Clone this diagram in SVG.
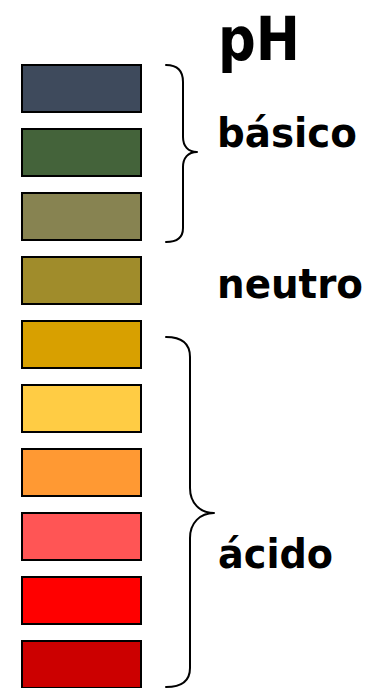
<svg xmlns="http://www.w3.org/2000/svg" width="374" height="688" viewBox="0 0 374 688">
  <style>
    .sw { stroke: #000; stroke-width: 2; }
    .br { fill: none; stroke: #000; stroke-width: 2; stroke-linecap: round; stroke-linejoin: round; }
    .lbl { font-family: "DejaVu Sans", "Liberation Sans", sans-serif; font-weight: bold; fill: #000; }
  </style>
  <rect width="374" height="688" fill="#fff"/>

  <!-- pH colour scale, from basic (top) to acidic (bottom) -->
  <g id="swatch-1"><rect class="sw" x="22" y="65" width="119" height="47" fill="#3E4A5C"/></g>
  <g id="swatch-2"><rect class="sw" x="22" y="129" width="119" height="47" fill="#44633A"/></g>
  <g id="swatch-3"><rect class="sw" x="22" y="193" width="119" height="47" fill="#878351"/></g>
  <g id="swatch-4"><rect class="sw" x="22" y="257" width="119" height="47" fill="#A08C2B"/></g>
  <g id="swatch-5"><rect class="sw" x="22" y="321" width="119" height="47" fill="#D8A000"/></g>
  <g id="swatch-6"><rect class="sw" x="22" y="385" width="119" height="47" fill="#FFCC44"/></g>
  <g id="swatch-7"><rect class="sw" x="22" y="449" width="119" height="47" fill="#FF9933"/></g>
  <g id="swatch-8"><rect class="sw" x="22" y="513" width="119" height="47" fill="#FF5555"/></g>
  <g id="swatch-9"><rect class="sw" x="22" y="577" width="119" height="47" fill="#FF0000"/></g>
  <g id="swatch-10"><rect class="sw" x="22" y="641" width="119" height="47" fill="#CC0000"/></g>

  <!-- curly braces grouping the ranges -->
  <g id="braces">
    <path class="br" d="M166,65 C177,65 183,70 183,82 L183,137 C183,146 188,152 197,152 C188,152 183,158 183,167 L183,228 C183,238 177,242 166,242"/>
    <path class="br" d="M166,337 C182,337 190,343 190,357 L190,488 C190,503 200,513 214,513 C200,513 190,523 190,538 L190,668 C190,681 182,687 166,687"/>
  </g>

  <!-- labels -->
  <g id="title"><text class="lbl" x="218" y="60" font-size="60" textLength="82" lengthAdjust="spacingAndGlyphs">pH</text></g>
  <g id="label-basico"><text class="lbl" x="217" y="147" font-size="40" textLength="140" lengthAdjust="spacingAndGlyphs">básico</text></g>
  <g id="label-neutro"><text class="lbl" x="217" y="298" font-size="40" textLength="146" lengthAdjust="spacingAndGlyphs">neutro</text></g>
  <g id="label-acido"><text class="lbl" x="218" y="568" font-size="40" textLength="115" lengthAdjust="spacingAndGlyphs">ácido</text></g>
</svg>
